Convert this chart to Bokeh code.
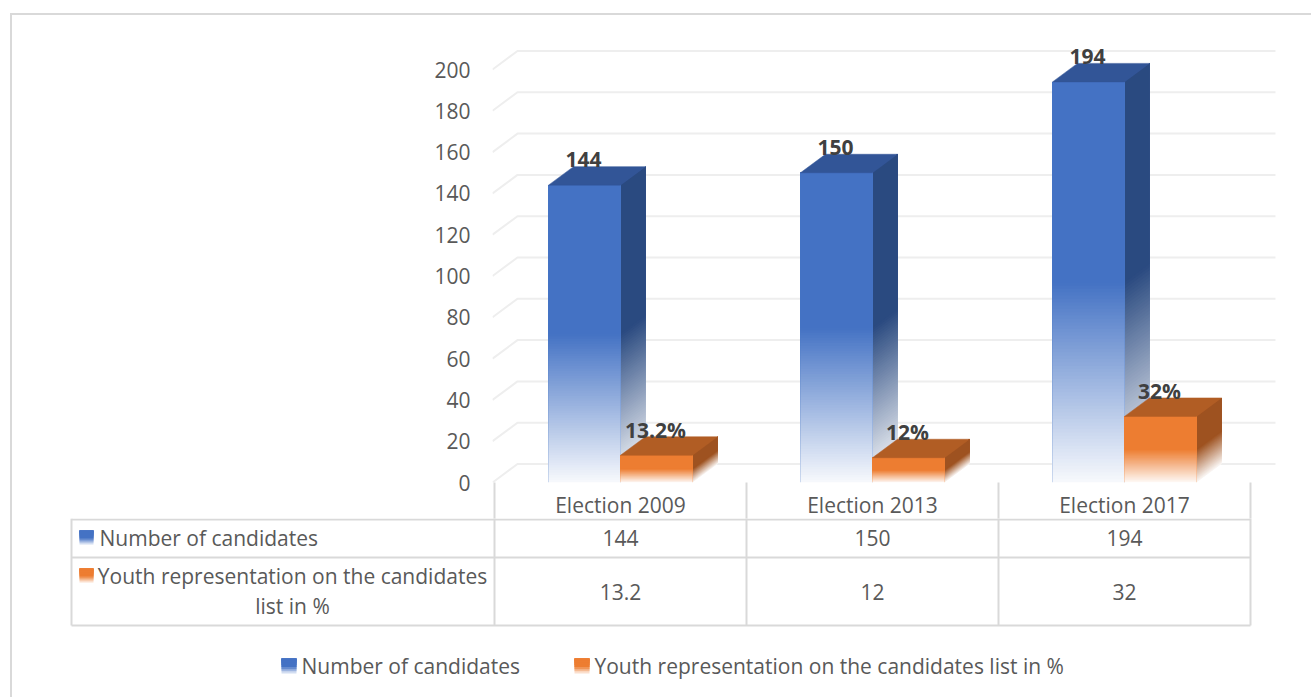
from bokeh.plotting import figure
from bokeh.models import Range1d, LinearAxis, FixedTicker, ColumnDataSource, Column
from bokeh.core.properties import value
from bokeh.embed import file_html
from bokeh.resources import INLINE

elections = ["Election 2009", "Election 2013", "Election 2017"]
series_names = ["Number of candidates", "Youth representation on the candidates list in %"]
candidates = [144, 150, 194]
youth = [13.2, 12, 32]
candidates_labels = ["144", "150", "194"]
youth_labels = ["13.2%", "12%", "32%"]
candidates_cells = ["144", "150", "194"]
youth_cells = ["13.2", "12", "32"]
y_ticks = [0, 20, 40, 60, 80, 100, 120, 140, 160, 180, 200]

FONT = "Open Sans"
GREY = "#595959"
DARK = "#404040"
RULE = "#d9d9d9"
GRID = "#eeeeee"
BLUE = ("#4472C4", "#325597", "#2A4A80")
ORANGE = ("#ED7D31", "#B15D24", "#9E5220")

# pixel scale of the drawing
CAT_PX = 252.0
VAL_PX = 2.065
DX = 25 / CAT_PX
DY = 18.5 / VAL_PX
BAR_W = 72 / CAT_PX
BLUE_LEFT = 54 / CAT_PX
N = 60


def mix(hex_color, a):
    r, g, b = (int(hex_color[i:i + 2], 16) for i in (1, 3, 5))
    return "#%02x%02x%02x" % tuple(round(255 - (255 - c) * a) for c in (r, g, b))


def fade(frac):
    # solid over the upper half of a bar, fading towards white at its foot
    return 1.0 if frac >= 0.5 else 0.04 + 0.96 * (frac / 0.5)


p = figure(width=1299, height=504, frame_width=819, frame_height=467,
           x_range=Range1d(-2 / CAT_PX, 817 / CAT_PX), y_range=Range1d(0, 467 / VAL_PX),
           x_axis_type=None, y_axis_type=None,
           output_backend="svg", toolbar_location=None,
           min_border_left=480, min_border_right=0, min_border_top=0, min_border_bottom=0,
           outline_line_color=None, background_fill_color="white", border_fill_color="white",
           frame_align=False)
p.grid.visible = False

yaxis = LinearAxis(ticker=FixedTicker(ticks=y_ticks), axis_line_color=None,
                   major_tick_line_color=None, minor_tick_line_color=None,
                   major_label_text_font=FONT, major_label_text_font_size="21px",
                   major_label_text_color=GREY, major_label_standoff=16)
p.add_layout(yaxis, "left")

xaxis = LinearAxis(ticker=FixedTicker(ticks=[0.5, 1.5, 2.5], minor_ticks=[0, 1, 2, 3]),
                   axis_line_color=None, major_tick_out=0, major_tick_in=0,
                   major_tick_line_color=None, minor_tick_out=37, minor_tick_in=0,
                   minor_tick_line_color=RULE, minor_tick_line_width=2,
                   major_label_overrides={0.5: elections[0], 1.5: elections[1], 2.5: elections[2]},
                   major_label_text_font=FONT, major_label_text_font_size="21px",
                   major_label_text_color=GREY, major_label_standoff=-29)
p.add_layout(xaxis, "below")

# perspective gridlines
p.multi_line(xs=[[-2 / CAT_PX, DX - 2 / CAT_PX, 3 + DX] for _ in y_ticks],
             ys=[[v, v + DY, v + DY] for v in y_ticks],
             line_color=GRID, line_width=2)


def draw_bar(left, val, colors):
    right = left + BAR_W
    # slices paint from the foot upward, each reaching the top of the bar, so no seams show
    lows = [val * i / (N * 2) for i in range(N)] + [val / 2]
    alphas = [fade((i + 0.5) / (N * 2)) for i in range(N)] + [1.0]
    front = [mix(colors[0], a) for a in alphas]
    side = [mix(colors[2], a) for a in alphas]
    p.patches(xs=[[right, right + DX, right + DX, right] for _ in lows],
              ys=[[lo, lo + DY, val + DY, val] for lo in lows],
              fill_color=side, line_color=None)
    p.quad(left=[left] * len(lows), right=[right] * len(lows), bottom=lows, top=[val] * len(lows),
           fill_color=front, line_color=None)
    p.patch([left, left + DX, right + DX, right], [val, val + DY, val + DY, val],
            fill_color=colors[1], line_color=colors[1], line_width=0.5)
    p.segment(x0=[left, right], x1=[left, right], y0=[0, 0], y1=[val, val],
              line_color=colors[0], line_alpha=0.25, line_width=1)


for i, v in enumerate(candidates):
    draw_bar(i + BLUE_LEFT, v, BLUE)
for i, v in enumerate(youth):
    draw_bar(i + BLUE_LEFT + BAR_W, v, ORANGE)

label_src = ColumnDataSource(dict(
    x=[i + BLUE_LEFT + BAR_W / 2 for i in range(3)] + [i + BLUE_LEFT + BAR_W * 1.5 for i in range(3)],
    y=[v + DY for v in candidates] + [v + DY for v in youth],
    t=candidates_labels + youth_labels))
p.text(x="x", y="y", text="t", source=label_src, text_align="center", text_baseline="alphabetic",
       x_offset=-1, y_offset=-7,
       text_font=value(FONT), text_font_style="bold", text_font_size="21px", text_color=DARK)

# ---- data table and legend, in page pixels below the axis
t = figure(width=1299, height=179, x_range=Range1d(12, 1311), y_range=Range1d(698, 519),
           x_axis_type=None, y_axis_type=None, output_backend="svg", toolbar_location=None,
           min_border=0, outline_line_color=None, background_fill_color="white",
           border_fill_color="white", frame_align=False, margin=(-3, 0, 0, 0))
t.grid.visible = False

col_x = [494 + CAT_PX * i for i in range(4)]
t.segment(x0=[71, 71, 71], x1=[col_x[-1]] * 3, y0=[520, 558, 626], y1=[520, 558, 626],
          line_color=RULE, line_width=2)
t.segment(x0=[71] + col_x, x1=[71] + col_x, y0=[519] * 5, y1=[626] * 5,
          line_color=RULE, line_width=2)


def swatch(x0, y0, color, size):
    bx0, bx1, by0, by1, bc = [], [], [], [], []
    for i in range(7):
        frac = (i + 0.5) / 7
        bx0.append(x0); bx1.append(x0 + size)
        by0.append(y0 + size * i / 7); by1.append(y0 + size)
        bc.append(mix(color, 1.0 if frac < 0.55 else 1.0 - (frac - 0.55) * 2))
    # paint from the foot upward so that the slices leave no seams
    t.quad(left=bx0[::-1], right=bx1[::-1], top=by0[:1] * 7, bottom=[y0 + size * (i + 1) / 7 for i in range(7)][::-1],
           fill_color=bc[::-1], line_color=None)


swatch(79, 531, BLUE[0], 14)
swatch(79, 569, ORANGE[0], 14)
swatch(281, 659, BLUE[0], 15)
swatch(574, 659, ORANGE[0], 15)

txt = dict(text_font=value(FONT), text_font_size="21px", text_color=GREY, text_baseline="middle")
t.text(x=[99], y=[538], text=[series_names[0]], text_align="left", **txt)
words = series_names[1].rsplit(" list", 1)
t.text(x=[292, 292], y=[576, 606], text=[words[0], "list" + words[1]], text_align="center", **txt)
centres = [494 + CAT_PX * (i + 0.5) for i in range(3)]
t.text(x=centres, y=[538] * 3, text=candidates_cells, text_align="center", **txt)
t.text(x=centres, y=[592] * 3, text=youth_cells, text_align="center", **txt)
t.text(x=[301, 594], y=[666, 666], text=series_names, text_align="left", **txt)

page = Column(children=[p, t], spacing=0, margin=(13, 0, 0, 10),
              styles={"border-top": "2px solid #d9d9d9", "border-left": "2px solid #d9d9d9"})
open("out.html", "w").write(file_html(page, INLINE))
